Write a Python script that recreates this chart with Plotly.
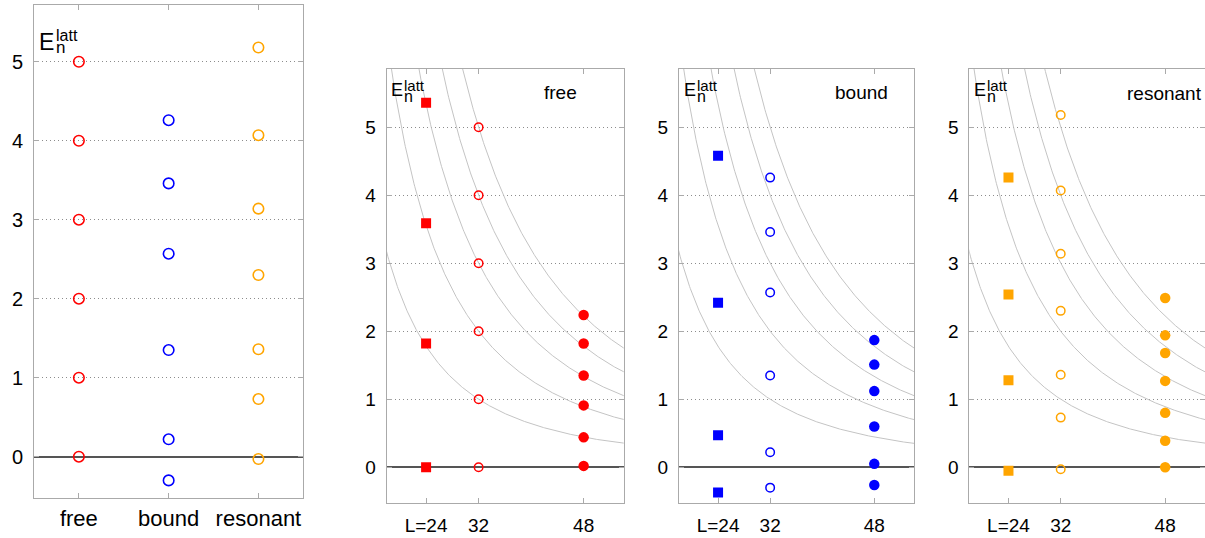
import numpy as np
import plotly.graph_objects as go

# ---------------- data ----------------
categories = ["free", "bound", "resonant"]
L_ticks = [24, 32, 48]
L_ticktext = ["L=24", "32", "48"]

free_24 = [0.0, 1.82, 3.59, 5.36]
free_32 = [0.0, 1.0, 2.0, 3.0, 4.0, 5.0]
free_48 = [0.02, 0.44, 0.91, 1.35, 1.82, 2.24]

bound_24 = [-0.37, 0.47, 2.42, 4.58]
bound_32 = [-0.30, 0.22, 1.35, 2.57, 3.46, 4.26]
bound_48 = [-0.26, 0.05, 0.60, 1.12, 1.51, 1.87]

res_24 = [-0.05, 1.28, 2.54, 4.26]
res_32 = [-0.03, 0.73, 1.36, 2.30, 3.14, 4.07, 5.18]
res_48 = [0.0, 0.39, 0.80, 1.27, 1.68, 1.94, 2.49]

# free-particle reference levels at L=32 used for the gray scaling curves
curve_levels_32 = [1, 2, 3, 4, 5]
L_ref = 32

colors = {"free": "#ff0000", "bound": "#0000ff", "resonant": "#ffa500"}

W, H = 1205, 538
FONT = "Liberation Sans, Arial, Helvetica, sans-serif"
FRAME = "#aaaaaa"
GRID = "#8c8c8c"

def px(x):
    return x / W

def py(y):
    return 1 - y / H

fig = go.Figure()

# ---------------- panel 1 ----------------
p1_series = {"free": free_32, "bound": bound_32, "resonant": res_32}
for i, cat in enumerate(categories):
    vals = p1_series[cat]
    fig.add_trace(go.Scatter(
        x=[i] * len(vals), y=vals, mode="markers",
        marker=dict(symbol="circle-open", size=10.5, color=colors[cat],
                    line=dict(width=1.6, color=colors[cat])),
        xaxis="x", yaxis="y", showlegend=False, hoverinfo="skip"))

# ---------------- panels 2-4 ----------------
panels = [
    ("free", free_24, free_32, free_48),
    ("bound", bound_24, bound_32, bound_48),
    ("resonant", res_24, res_32, res_48),
]
L_grid = np.linspace(14, 58, 400)
for k, (name, v24, v32, v48) in enumerate(panels):
    xa = f"x{k+2}"
    ya = f"y{k+2}"
    for lev in curve_levels_32:
        fig.add_trace(go.Scatter(
            x=L_grid, y=lev * (L_ref / L_grid) ** 2, mode="lines",
            line=dict(color="#c4c4c4", width=1),
            xaxis=xa, yaxis=ya, showlegend=False, hoverinfo="skip"))
    c = colors[name]
    fig.add_trace(go.Scatter(
        x=[L_ticks[0]] * len(v24), y=v24, mode="markers",
        marker=dict(symbol="square", size=10, color=c),
        xaxis=xa, yaxis=ya, showlegend=False, hoverinfo="skip"))
    fig.add_trace(go.Scatter(
        x=[L_ticks[1]] * len(v32), y=v32, mode="markers",
        marker=dict(symbol="circle-open", size=8.5, color=c,
                    line=dict(width=1.5, color=c)),
        xaxis=xa, yaxis=ya, showlegend=False, hoverinfo="skip"))
    fig.add_trace(go.Scatter(
        x=[L_ticks[2]] * len(v48), y=v48, mode="markers",
        marker=dict(symbol="circle", size=10.5, color=c),
        xaxis=xa, yaxis=ya, showlegend=False, hoverinfo="skip"))

# ---------------- axes ----------------
common_y = dict(
    dtick=1, tick0=0, showgrid=True, gridcolor=GRID, griddash="1px,3px",
    gridwidth=1, zeroline=True, zerolinecolor="#555555", zerolinewidth=1.5,
    showline=True, linecolor=FRAME, linewidth=1, mirror="ticks",
    ticks="inside", ticklen=5, tickcolor=FRAME,
    tickfont=dict(family=FONT, size=19, color="black"),
    automargin=False, fixedrange=True, ticklabelstandoff=6,
)
common_x = dict(
    showgrid=False, zeroline=False,
    showline=True, linecolor=FRAME, linewidth=1, mirror="ticks",
    ticks="inside", ticklen=5, tickcolor=FRAME,
    automargin=False, fixedrange=True,
)

layout = dict(
    width=W, height=H,
    margin=dict(l=0, r=0, t=0, b=0),
    paper_bgcolor="white", plot_bgcolor="white",
    font=dict(family=FONT, color="black"),
)

layout["xaxis"] = dict(common_x, domain=[px(34), px(303.3)], range=[-0.5, 2.5],
                       tickvals=[0, 1, 2], ticktext=categories,
                       tickfont=dict(family=FONT, size=22, color="black"),
                       ticklabelstandoff=1, anchor="y")
layout["yaxis"] = dict(common_y, domain=[py(497.7), py(4.7)], range=[-0.519, 5.722],
                       tickfont=dict(family=FONT, size=20, color="black"),
                       anchor="x")

p_domains = [(386.7, 623.7), (679, 914), (969.3, 1206)]
for k, (a, b) in enumerate(p_domains):
    layout[f"xaxis{k+2}"] = dict(common_x, domain=[px(a), min(px(b), 1.0)],
                                 range=[18.0, 54.1], tickvals=L_ticks,
                                 ticktext=L_ticktext,
                                 tickfont=dict(family=FONT, size=19, color="black"),
                                 ticklabelstandoff=5, anchor=f"y{k+2}")
    layout[f"yaxis{k+2}"] = dict(common_y, domain=[py(503.3), py(69)],
                                 range=[-0.53, 5.857], anchor=f"x{k+2}")

fig.update_layout(**layout)

# ---------------- annotations ----------------
ann = []
def add_text(x, y, text, size, anchor="left"):
    ann.append(dict(x=px(x), y=py(y), xref="paper", yref="paper", text=text,
                    showarrow=False, xanchor=anchor, yanchor="middle",
                    font=dict(family=FONT, size=size, color="black")))

# E_n^latt labels
add_text(36.5, 42, "E", 23)
add_text(53.5, 35, "latt", 16)
add_text(53.5, 47, "n", 17)
for left in [389, 681.7, 972]:
    add_text(left, 90.5, "E", 18)
    add_text(left + 13, 86, "latt", 15)
    add_text(left + 13, 97, "n", 16)

# panel titles
add_text(560, 92, "free", 19, "center")
add_text(861, 92, "bound", 19, "center")
add_text(1164, 93, "resonant", 19, "center")

fig.update_layout(annotations=ann)

fig.write_html("out.html")
